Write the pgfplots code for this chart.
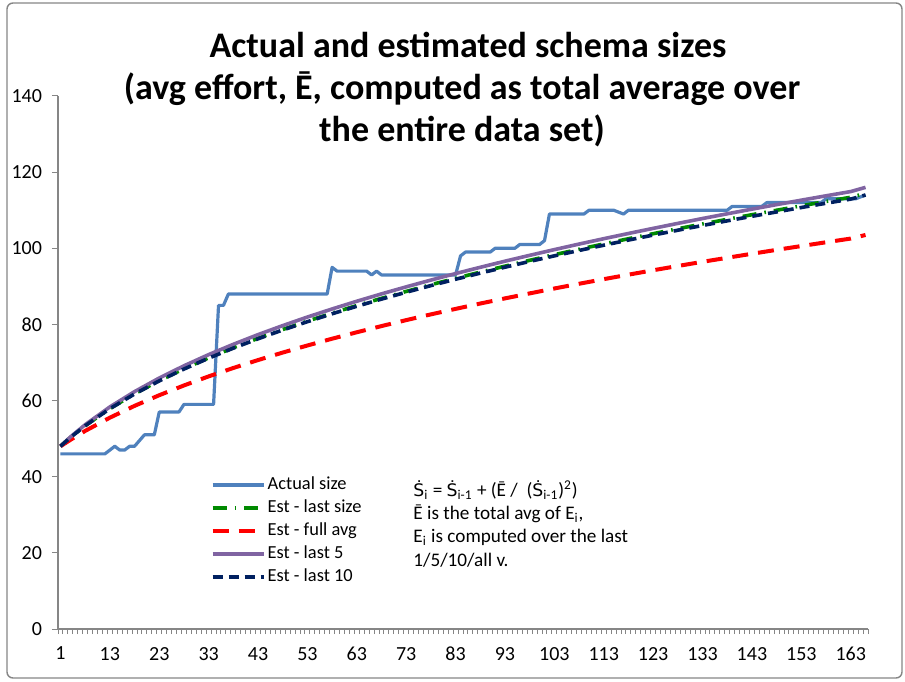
\documentclass[border=0pt]{standalone}
\usepackage{fontspec}
\setmainfont{Carlito}
\newfontfamily\dejavu[Scale=0.9]{DejaVu Sans}
\usepackage{pgfplots}
\pgfplotsset{compat=1.18}

\definecolor{actblue}{HTML}{4F81BD}
\definecolor{estgreen}{HTML}{008A00}
\definecolor{estred}{HTML}{FF0000}
\definecolor{estpurple}{HTML}{8064A2}
\definecolor{estnavy}{HTML}{002060}
\definecolor{axgray}{HTML}{868686}

\newcommand{\Sdot}{{\dejavu Ṡ}}

\begin{document}
\begin{tikzpicture}
\begin{axis}[
    name=ax,
    scale only axis,
    width=405pt, height=266.5pt,
    xmin=0.5, xmax=164.5,
    ymin=0, ymax=140,
    ytick={0,20,...,140},
    xtick={1,11,...,161},
    xticklabels={1,13,23,33,43,53,63,73,83,93,103,113,123,133,143,153,163},
    minor xtick={0.5,1.5,...,164.5},
    axis lines*=left,
    axis line style={axgray, line width=0.6pt},
    tick align=outside,
    tick style={axgray, line width=0.5pt},
    major tick length=3pt,
    minor tick length=2.5pt,
    major x tick style={draw=none},
    tick label style={font=\fontsize{10}{12}\selectfont, text=black},
    /pgf/number format/assume math mode=true,
    yticklabel style={xshift=-1.5pt},
    xticklabel style={yshift=-2.5pt},
    clip=false,
    legend style={at={(0.188,0.2925)}, anchor=north west, draw=none, fill=none,
        inner sep=0pt, row sep=0pt,
        font=\fontsize{9.2}{11.5}\selectfont,
        nodes={inner sep=1pt, text height=7pt, text depth=2.5pt}},
    legend cell align=left,
    legend image code/.code={\draw[#1] (0pt,0pt) -- (25.5pt,0pt);},
]
\addplot[actblue, line width=1.6pt, line join=round] coordinates {
    (1,46) (10,46) (12,48) (13,47) (14,47) (15,48) (16,48) (18,51) (20,51)
    (21,57) (25,57) (26,59) (32,59) (33,85) (34,85) (35,88) (55,88)
    (56,95) (57,94) (63,94) (64,93) (65,94) (66,93) (81,93) (82,98) (83,99)
    (88,99) (89,100) (93,100) (94,101) (98,101) (99,102) (100,109) (107,109)
    (108,110) (113,110) (115,109) (116,110) (136,110) (137,111) (143,111)
    (144,112) (155,112) (156,113) (162,113) (164,114)
};
\addlegendentry{Actual size}
\addplot[estgreen, line width=1.8pt, dash pattern=on 7pt off 4pt on 0.8pt off 4pt] coordinates {
    (1,48.00) (3,50.30) (6,53.40) (11,57.89) (16,61.78) (21,65.23) (26,68.36)
    (31,71.22) (36,73.88) (41,76.35) (46,78.68) (51,80.87) (56,82.97) (61,84.95)
    (66,86.85) (71,88.67) (76,90.43) (81,92.11) (86,93.74) (91,95.30) (96,96.84)
    (101,98.31) (106,99.75) (111,101.14) (116,102.51) (121,103.83) (126,105.13)
    (131,106.38) (136,107.61) (141,108.82) (146,109.99) (151,111.16) (156,112.30)
    (161,113.40) (164,114.40)
};
\addlegendentry{Est - last size}
\addplot[estred, line width=2pt, dash pattern=on 8pt off 5pt] coordinates {
    (1,48.00) (3,49.67) (6,52.03) (11,55.51) (16,58.61) (21,61.41) (26,63.97)
    (31,66.35) (36,68.56) (41,70.64) (46,72.61) (51,74.47) (56,76.25) (61,77.94)
    (66,79.57) (71,81.13) (76,82.64) (81,84.08) (86,85.49) (91,86.84) (96,88.15)
    (101,89.44) (106,90.68) (111,91.89) (116,93.07) (121,94.23) (126,95.35)
    (131,96.45) (136,97.51) (141,98.56) (146,99.59) (151,100.59) (156,101.58)
    (161,102.55) (164,103.50)
};
\addlegendentry{Est - full avg}
\addplot[estpurple, line width=1.8pt] coordinates {
    (1,48.00) (3,50.42) (6,53.66) (11,58.33) (16,62.35) (21,65.92) (26,69.13)
    (31,72.07) (36,74.78) (41,77.32) (46,79.69) (51,81.94) (56,84.06) (61,86.09)
    (66,88.02) (71,89.87) (76,91.65) (81,93.36) (86,95.01) (91,96.61) (96,98.15)
    (101,99.65) (106,101.11) (111,102.52) (116,103.89) (121,105.23) (126,106.54)
    (131,107.82) (136,109.06) (141,110.28) (146,111.47) (151,112.64) (156,113.78)
    (161,114.90) (164,116.00)
};
\addlegendentry{Est - last 5}
\addplot[estnavy, line width=1.8pt, dash pattern=on 5pt off 3pt] coordinates {
    (1,48.00) (3,50.29) (6,53.38) (11,57.86) (16,61.73) (21,65.17) (26,68.28)
    (31,71.13) (36,73.77) (41,76.23) (46,78.54) (51,80.72) (56,82.80) (61,84.77)
    (66,86.65) (71,88.46) (76,90.20) (81,91.87) (86,93.48) (91,95.03) (96,96.55)
    (101,98.01) (106,99.43) (111,100.81) (116,102.16) (121,103.47) (126,104.75)
    (131,105.99) (136,107.21) (141,108.40) (146,109.55) (151,110.71) (156,111.83)
    (161,112.92) (164,114.00)
};
\addlegendentry{Est - last 10}
\end{axis}

% formula note (base anchor = baseline of the last line)
\node[anchor=base west, align=left, inner sep=0pt, font=\fontsize{9.6}{11.6}\selectfont]
    at ([shift={(177.5pt,31.5pt)}]ax.south west)
    {\Sdot\textsubscript{i} = \Sdot\textsubscript{i-1} + (\={E} /\ \ (\Sdot\textsubscript{i-1})\textsuperscript{2})\\
     \={E} is the total avg of E\textsubscript{i},\\
     E\textsubscript{i} is computed over the last\\
     1/5/10/all v.};

% title
\begin{scope}[every node/.style={anchor=base, inner sep=0pt, font=\fontsize{18}{21.6}\selectfont\bfseries}]
\node at ([shift={(205pt,285.5pt)}]ax.south west) {Actual and estimated schema sizes};
\node at ([shift={(202pt,264.5pt)}]ax.south west) {(avg effort, Ē, computed as total average over};
\node at ([shift={(202pt,243.5pt)}]ax.south west) {the entire data set)};
\end{scope}

% chart frame
\draw[axgray, line width=0.7pt, rounded corners=3pt]
    ([shift={(-25.5pt,-24.5pt)}]ax.south west) rectangle ([shift={(422pt,313pt)}]ax.south west);
\pgfresetboundingbox
\path ([shift={(-29pt,-26pt)}]ax.south west) rectangle ([shift={(423.5pt,314.5pt)}]ax.south west);
\end{tikzpicture}
\end{document}
